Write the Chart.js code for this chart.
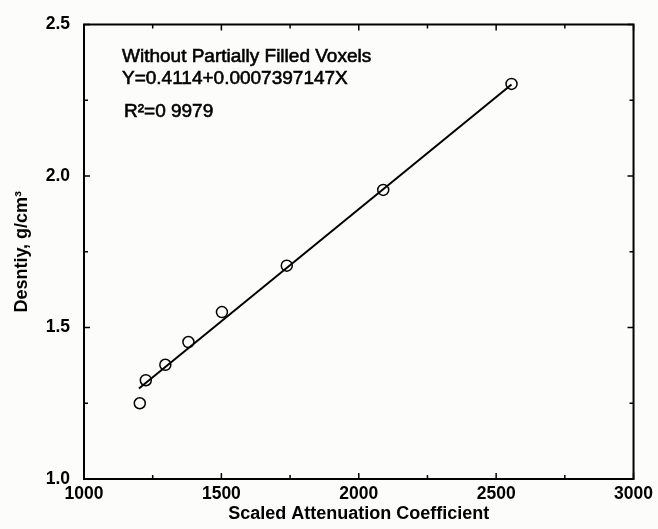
<!DOCTYPE html>
<html lang="en">
<head>
    <meta charset="UTF-8">
    <title>Density vs Scaled Attenuation Coefficient</title>
    <script src="https://cdn.jsdelivr.net/npm/chart.js@4.4.1/dist/chart.umd.min.js"></script>
    <style>
        body { margin: 0; background: #fcfcfb; }
        .wrap { width: 658px; height: 529px; position: relative; }
    </style>
</head>
<body>
    <div class="wrap"><canvas id="densityChart"></canvas></div>

    <script>
        const attenuation = [1203, 1225, 1296, 1380, 1502, 1738, 2089, 2556];
        const density     = [1.250, 1.326, 1.377, 1.452, 1.551, 1.704, 1.954, 2.304];

        // fitted line end points
        const fitX = [1200, 2556];
        const fitY = [1.299, 2.302];

        const xMajor = [1000, 1500, 2000, 2500, 3000];
        const xMinor = [1250, 1750, 2250, 2750];
        const yMajor = [1.0, 1.5, 2.0, 2.5];
        const yMinor = [1.25, 1.75, 2.25];

        const notes = [
            "Without Partially Filled Voxels",
            "Y=0.4114+0.0007397147X",
            "R\u00B2=0 9979"
        ];

        const FONT = "'Liberation Sans', Arial, sans-serif";

        const framePlugin = {
            id: "frame",
            afterDatasetsDraw(chart) {
                const ctx = chart.ctx;
                const a = chart.chartArea;
                const xs = chart.scales.x, ys = chart.scales.y;
                ctx.save();
                ctx.strokeStyle = "#000";
                ctx.lineWidth = 2;
                ctx.strokeRect(a.left, a.top, a.right - a.left, a.bottom - a.top);

                ctx.lineWidth = 1.5;
                ctx.beginPath();
                const tickX = (v, len) => {
                    const px = xs.getPixelForValue(v);
                    ctx.moveTo(px, a.bottom); ctx.lineTo(px, a.bottom - len);
                    ctx.moveTo(px, a.top); ctx.lineTo(px, a.top + len);
                };
                const tickY = (v, len) => {
                    const py = ys.getPixelForValue(v);
                    ctx.moveTo(a.left, py); ctx.lineTo(a.left + len, py);
                    ctx.moveTo(a.right, py); ctx.lineTo(a.right - len, py);
                };
                xMajor.forEach(v => tickX(v, 6));
                xMinor.forEach(v => tickX(v, 4));
                yMajor.forEach(v => tickY(v, 6));
                yMinor.forEach(v => tickY(v, 4));
                ctx.stroke();

                // annotation text in upper left (thin stroke to mimic the heavy scan)
                ctx.fillStyle = "#000";
                ctx.lineWidth = 0.6;
                ctx.font = "19px " + FONT;
                ctx.textBaseline = "alphabetic";
                const put = (t, x, y) => { ctx.fillText(t, x, y); ctx.strokeText(t, x, y); };
                put(notes[0], a.left + 38, a.top + 37);
                put(notes[1], a.left + 38, a.top + 59);
                put(notes[2], a.left + 40, a.top + 92);
                ctx.restore();
            }
        };

        document.addEventListener("DOMContentLoaded", () => {
            renderChart();
        });

        function renderChart() {
            const ctx = document.getElementById("densityChart").getContext("2d");
            new Chart(ctx, {
                type: "scatter",
                data: {
                    datasets: [
                        {
                            label: "fit",
                            data: fitX.map((x, i) => ({ x: x, y: fitY[i] })),
                            showLine: true,
                            borderColor: "#000",
                            borderWidth: 2,
                            pointRadius: 0
                        },
                        {
                            label: "data",
                            data: attenuation.map((x, i) => ({ x: x, y: density[i] })),
                            pointStyle: "circle",
                            pointRadius: 5.5,
                            pointBorderWidth: 1.5,
                            borderColor: "#000",
                            backgroundColor: "rgba(0,0,0,0)"
                        }
                    ]
                },
                options: {
                    responsive: true,
                    maintainAspectRatio: false,
                    animation: false,
                    layout: { padding: { top: 21, right: 23, left: 0, bottom: 0 } },
                    plugins: {
                        legend: { display: false },
                        tooltip: { enabled: false }
                    },
                    scales: {
                        x: {
                            type: "linear",
                            min: 1000,
                            max: 3000,
                            grid: { display: false, drawTicks: false },
                            border: { display: false },
                            afterBuildTicks: s => { s.ticks = xMajor.map(v => ({ value: v })); },
                            afterFit: s => { s.height = 50; },
                            ticks: {
                                color: "#000",
                                padding: 5,
                                maxRotation: 0,
                                font: { family: FONT, size: 17.5, weight: "bold" },
                                callback: v => String(v)
                            },
                            title: {
                                display: true,
                                text: "Scaled Attenuation Coefficient",
                                color: "#000",
                                font: { family: FONT, size: 18, weight: "bold" },
                                padding: { top: 0, bottom: 4 }
                            }
                        },
                        y: {
                            type: "linear",
                            min: 1.0,
                            max: 2.5,
                            grid: { display: false, drawTicks: false },
                            border: { display: false },
                            afterBuildTicks: s => { s.ticks = yMajor.map(v => ({ value: v })); },
                            afterFit: s => { s.width = 84; },
                            ticks: {
                                color: "#000",
                                padding: 14,
                                font: { family: FONT, size: 17.5, weight: "bold" },
                                callback: v => Number(v).toFixed(1)
                            },
                            title: {
                                display: true,
                                text: "Desntiy, g/cm\u00B3",
                                color: "#000",
                                font: { family: FONT, size: 18, weight: "bold" },
                                padding: { top: 11, bottom: 0 }
                            }
                        }
                    }
                },
                plugins: [framePlugin]
            });
        }
    </script>
</body>
</html>
